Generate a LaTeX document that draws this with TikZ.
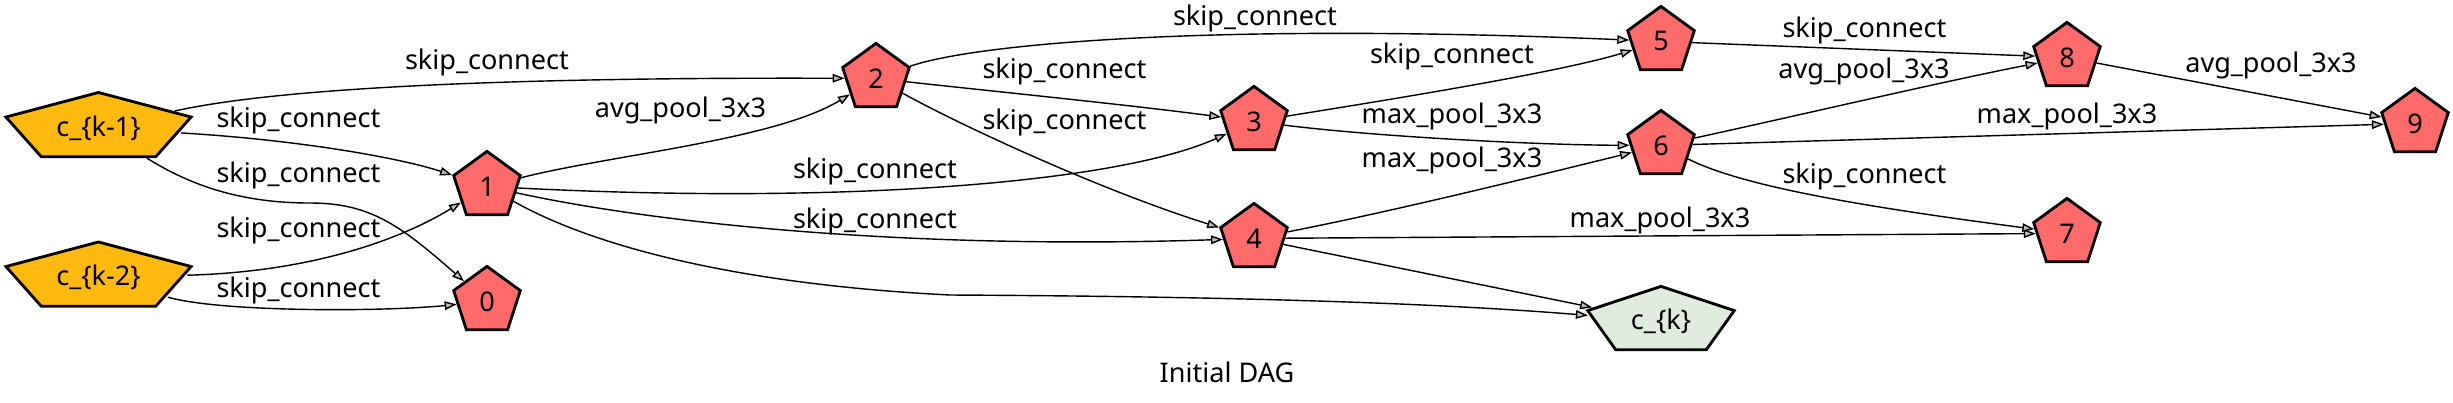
\documentclass[tikz,border=0pt]{standalone}
\usepackage{fontspec}
\setmainfont{Noto Sans}
\usetikzlibrary{shapes.geometric,arrows.meta}
\definecolor{opred}{HTML}{FF6A6A}
\definecolor{inorange}{HTML}{FFB90F}
\definecolor{outgreen}{HTML}{E0ECDD}
\definecolor{tipgray}{HTML}{BEBEBE}
\begin{document}
\begin{tikzpicture}[x=0.01cm, y=-0.01cm,
  font=\fontsize{7.7pt}{9pt}\selectfont,
  pent/.style={regular polygon, regular polygon sides=5, minimum size=0.70cm, inner sep=0pt, draw=black, line width=0.8pt},
  opnode/.style={pent, fill=opred},
  innode/.style={pent, fill=inorange, minimum size=0.71cm},
  outnode/.style={pent, fill=outgreen},
  txt/.style={inner sep=0pt},
  lbl/.style={inner sep=0pt},
  edge/.style={draw=black, line width=0.4pt, -{Triangle[length=0.12cm, width=0.085cm, fill=tipgray]}},
]
\useasboundingbox (0,0) rectangle (2453,402);

% input nodes (stretched pentagons)
\begin{scope}[shift={(98.5,128)}]
  \node[innode, xscale=2.74, transform shape] (km1) at (0,0) {};
\end{scope}
\begin{scope}[shift={(98.5,277.5)}]
  \node[innode, xscale=2.74, transform shape] (km2) at (0,0) {};
\end{scope}
\begin{scope}[shift={(1661,321.4)}]
  \node[outnode, xscale=2.2, transform shape] (ck) at (0,0) {};
\end{scope}
\node[txt] (km1t) at (km1.center) {c\_\{k-1\}};
\node[txt] (km2t) at (km2.center) {c\_\{k-2\}};
\node[txt] (ckt) at (ck.center) {c\_\{k\}};

% operation nodes
\node[opnode] (n0) at (487,301.4) {0};
\node[opnode] (n1) at (487,186.4) {1};
\node[opnode] (n2) at (876,78.4) {2};
\node[opnode] (n3) at (1254,121.4) {3};
\node[opnode] (n4) at (1254,238.4) {4};
\node[opnode] (n5) at (1661,41.4) {5};
\node[opnode] (n6) at (1661,145.4) {6};
\node[opnode] (n7) at (2067,233.4) {7};
\node[opnode] (n8) at (2067,57.4) {8};
\node[opnode] (n9) at (2415,123.4) {9};

% edges
\draw[edge] (km1) .. controls (260,92) and (450,77) .. (n2);
\draw[edge] (km1) .. controls (300,140) and (400,158) .. (n1);
\draw[edge] (km1) .. controls (190,185) and (240,203) .. (310,203) .. controls (370,203) and (400,225) .. (n0);
\draw[edge] (km2) .. controls (310,272) and (400,240) .. (n1);
\draw[edge] (km2) .. controls (220,312) and (380,312) .. (n0);
\draw[edge] (n1) .. controls (610,155) and (775,140) .. (n2);
\draw[edge] (n1) .. controls (850,205) and (1120,182) .. (n3);
\draw[edge] (n1) .. controls (650,222) and (900,250) .. (n4);
\draw[edge] (n1) .. controls (600,250) and (750,285) .. (950,295) .. controls (1150,296) and (1400,300) .. (ck);
\draw[edge] (n2) .. controls (970,45) and (1200,22) .. (n5);
\draw[edge] (n2) .. controls (1000,92) and (1130,105) .. (n3);
\draw[edge] (n2) .. controls (960,125) and (1100,190) .. (n4);
\draw[edge] (n3) .. controls (1400,98) and (1560,72) .. (n5);
\draw[edge] (n3) .. controls (1380,137) and (1540,145) .. (n6);
\draw[edge] (n4) .. controls (1400,210) and (1560,170) .. (n6);
\draw[edge] (n4) -- (n7);
\draw[edge] (n4) -- (ck);
\draw[edge] (n5) -- (n8);
\draw[edge] (n6) .. controls (1800,115) and (1950,80) .. (n8);
\draw[edge] (n6) -- (n9);
\draw[edge] (n6) .. controls (1740,185) and (1850,205) .. (n7);
\draw[edge] (n8) -- (n9);

% edge labels
\node[lbl] (l1) at (487,62) {skip\_connect};
\node[lbl] (l2) at (298.5,120.5) {skip\_connect};
\node[lbl] (l3) at (298.5,175.5) {skip\_connect};
\node[lbl] (l4) at (298.5,230.5) {skip\_connect};
\node[lbl] (l5) at (298.5,290) {skip\_connect};
\node[lbl] (l6) at (680.5,110) {avg\_pool\_3x3};
\node[lbl] (l7) at (875,171.5) {skip\_connect};
\node[lbl] (l8) at (875,221.5) {skip\_connect};
\node[lbl] (l10) at (1255,18) {skip\_connect};
\node[lbl] (l11) at (1064.5,71.5) {skip\_connect};
\node[lbl] (l12) at (1064.5,122.5) {skip\_connect};
\node[lbl] (l13) at (1452,56.5) {skip\_connect};
\node[lbl] (l14) at (1452,116.5) {max\_pool\_3x3};
\node[lbl] (l15) at (1452,160) {max\_pool\_3x3};
\node[lbl] (l16) at (1660,220) {max\_pool\_3x3};
\node[lbl] (l18) at (1864.5,30) {skip\_connect};
\node[lbl] (l19) at (1864,71.5) {avg\_pool\_3x3};
\node[lbl] (l20) at (2067,116.5) {max\_pool\_3x3};
\node[lbl] (l21) at (1864.5,176) {skip\_connect};
\node[lbl] (l22) at (2271,65) {avg\_pool\_3x3};

\node[txt] (title) at (1227,372.5) {Initial DAG};
\end{tikzpicture}
\end{document}
